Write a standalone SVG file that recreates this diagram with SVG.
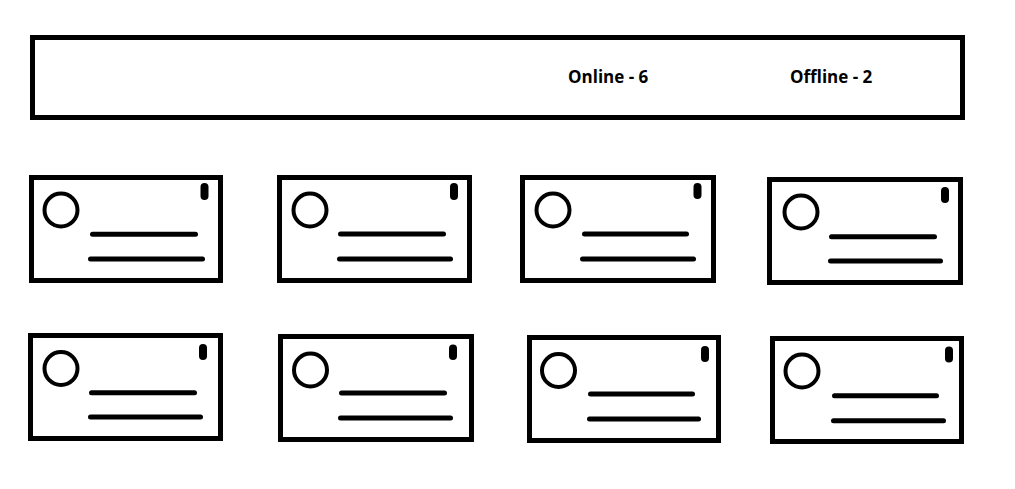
<svg xmlns="http://www.w3.org/2000/svg" width="1015" height="489" viewBox="0 0 1015 489">
<style>
.box{fill:#fff;stroke:#000;stroke-width:5}
.ring{fill:none;stroke:#000;stroke-width:4}
.pill{stroke:#000;stroke-width:8;stroke-linecap:round}
.bar{stroke:#000;stroke-width:5;stroke-linecap:round}
.lbl{font-family:"Open Sans","Liberation Sans",sans-serif;font-weight:700;font-size:17px;fill:#000}
</style>
<rect width="1015" height="489" fill="#fff"/>
<g id="header">
<rect class="box" x="32.5" y="37.5" width="930" height="80"/>
<text class="lbl" x="568" y="83">Online - 6</text>
<text class="lbl" x="790" y="83">Offline - 2</text>
</g>
<g id="card1">
<rect class="box" x="31.5" y="177.5" width="189" height="103"/>
<circle class="ring" cx="61" cy="210" r="16.5"/>
<line class="pill" x1="204.5" y1="187" x2="204.5" y2="196"/>
<line class="bar" x1="92.5" y1="234.3" x2="195.5" y2="234.3"/>
<line class="bar" x1="90.5" y1="259" x2="202.5" y2="259"/>
</g>
<g id="card2">
<rect class="box" x="279.5" y="177.5" width="190" height="103"/>
<circle class="ring" cx="310" cy="210" r="16.5"/>
<line class="pill" x1="454" y1="187" x2="454" y2="196"/>
<line class="bar" x1="340.5" y1="234" x2="443.5" y2="234"/>
<line class="bar" x1="339.5" y1="259" x2="450.5" y2="259"/>
</g>
<g id="card3">
<rect class="box" x="522.5" y="177.5" width="191" height="103"/>
<circle class="ring" cx="553" cy="210" r="16.5"/>
<line class="pill" x1="697.5" y1="187" x2="697.5" y2="195"/>
<line class="bar" x1="584.5" y1="234" x2="686.5" y2="234"/>
<line class="bar" x1="582.5" y1="259" x2="693.5" y2="259"/>
</g>
<g id="card4">
<rect class="box" x="769.5" y="179.5" width="191" height="103"/>
<circle class="ring" cx="801" cy="212" r="16.5"/>
<line class="pill" x1="945" y1="191" x2="945" y2="199"/>
<line class="bar" x1="831.5" y1="236.7" x2="934.5" y2="236.7"/>
<line class="bar" x1="830.5" y1="261" x2="940.5" y2="261"/>
</g>
<g id="card5">
<rect class="box" x="30.5" y="335.5" width="190" height="103"/>
<circle class="ring" cx="61" cy="368.5" r="16.5"/>
<line class="pill" x1="203" y1="348" x2="203" y2="356"/>
<line class="bar" x1="91.5" y1="392.7" x2="194.5" y2="392.7"/>
<line class="bar" x1="90.5" y1="417" x2="200.5" y2="417"/>
</g>
<g id="card6">
<rect class="box" x="280.5" y="336.5" width="191" height="103"/>
<circle class="ring" cx="310.5" cy="370" r="16.5"/>
<line class="pill" x1="453" y1="348.5" x2="453" y2="356"/>
<line class="bar" x1="341.5" y1="393" x2="444.5" y2="393"/>
<line class="bar" x1="340.5" y1="418" x2="450.5" y2="418"/>
</g>
<g id="card7">
<rect class="box" x="529.5" y="337.5" width="189" height="103"/>
<circle class="ring" cx="558.5" cy="370.5" r="16.5"/>
<line class="pill" x1="705" y1="350" x2="705" y2="358"/>
<line class="bar" x1="590.5" y1="394" x2="692.5" y2="394"/>
<line class="bar" x1="589.5" y1="419" x2="698.5" y2="419"/>
</g>
<g id="card8">
<rect class="box" x="772.5" y="338.5" width="189" height="103"/>
<circle class="ring" cx="802" cy="371" r="16.5"/>
<line class="pill" x1="949" y1="350.5" x2="949" y2="358.5"/>
<line class="bar" x1="834.5" y1="395.7" x2="936.5" y2="395.7"/>
<line class="bar" x1="833.5" y1="420.7" x2="943.5" y2="420.7"/>
</g>
<g id="connectors"></g>
</svg>
